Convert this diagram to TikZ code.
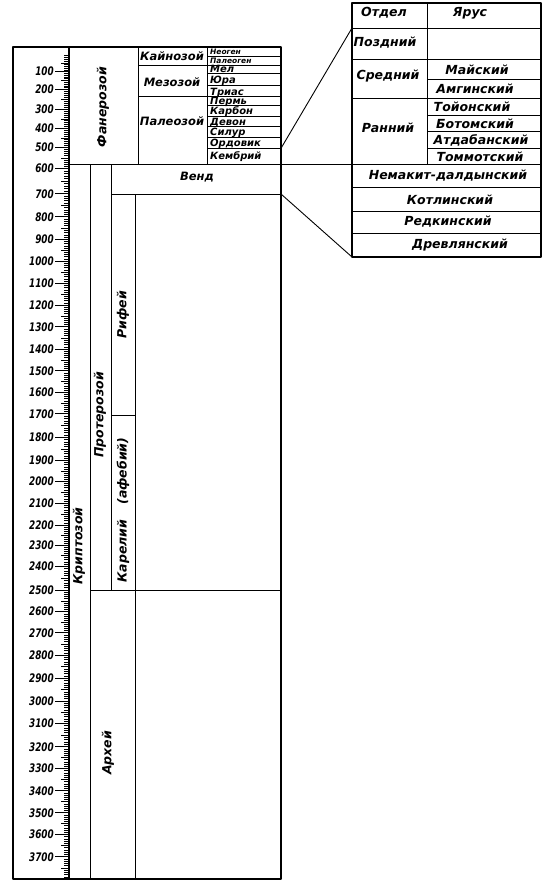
\documentclass[tikz,border=0pt]{standalone}
\usepackage{fontspec}
\usepackage{graphicx}
\newfontfamily\numfont{DejaVu Sans Bold Oblique}[FakeStretch=0.75]
\newfontfamily\txtfont{DejaVu Sans Bold Oblique}
\begin{document}
\begin{tikzpicture}[x=1pt,y=-1pt,line join=round,
  frame/.style={line width=1.3pt},
  thin/.style={line width=0.9pt},
  tick/.style={line width=0.55pt},
  lbl/.style={font=\txtfont\fontsize{11.5}{13}\selectfont, inner sep=0pt},
  per/.style={font=\txtfont\fontsize{10}{10}\selectfont, inner sep=0pt, anchor=base west},
  tiny/.style={font=\txtfont\fontsize{7.5}{8}\selectfont, inner sep=0pt, anchor=base west},
  tbl/.style={font=\txtfont\fontsize{12.5}{13}\selectfont, inner sep=0pt},
  num/.style={font=\numfont\fontsize{11.8}{12}\selectfont, inner sep=0pt, anchor=east},
  vert/.style={font=\txtfont\fontsize{12.5}{13}\selectfont, inner sep=0pt, rotate=90}]
\useasboundingbox (0,0) rectangle (553,887);
\fill[white] (0,0) rectangle (553,887);

% ---- scale: minor ticks
\foreach \va/\vb in {54/71.7,71.7/89.3,89.3/109.3,109.3/128.3,128.3/147.3,147.3/168.3,
  168.3/193.8,193.8/216.7,216.7/239.3,239.3/261,261/283.3,283.3/305,305/326.7,326.7/349,
  349/370.7,370.7/392.3,392.3/413.7,413.7/437.3,437.3/460.7,460.7/481,481/503.3,503.3/525,
  525/545,545/566,566/590,590/611.7,611.7/632.7,632.7/655,655/678.3,678.3/701,701/723.3,
  723.3/746.7,746.7/768.3,768.3/790.7,790.7/812.7,812.7/834.3,834.3/856.7,856.7/879}{
  \foreach \i in {1,...,9}{
    \pgfmathsetmacro\yy{\va+(\vb-\va)*\i/10}
    \pgfmathsetmacro\len{ifthenelse(\i==5,8,5)}
    \draw[tick] ({69-\len},\yy) -- (69,\yy);
  }
}
% ---- scale: labels
\foreach \v/\y in {100/71.7,200/89.3,300/109.3,400/128.3,500/147.3,600/168.3,700/193.8,
  800/216.7,900/239.3,1000/261,1100/283.3,1200/305,1300/326.7,1400/349,1500/370.7,
  1600/392.3,1700/413.7,1800/437.3,1900/460.7,2000/481,2100/503.3,2200/525,2300/545,
  2400/566,2500/590,2600/611.7,2700/632.7,2800/655,2900/678.3,3000/701,3100/723.3,
  3200/746.7,3300/768.3,3400/790.7,3500/812.7,3600/834.3,3700/856.7}{
  \node[num] (n\v) at (54,\y) {\v};
  \draw[tick,line width=0.9pt] (n\v.east) ++(1,0) -- (69,\y);
}

% ---- main column frame
\draw[frame] (13,47) rectangle (281,879);
\draw[frame] (69,47) -- (69,879);
\draw[thin] (138,47) -- (138,164.5);
\draw[thin] (207,47) -- (207,164.5);
\foreach \y in {56,65,73.3,85,96.7,105.7,116,126.7,137.3,148.3}
  \draw[thin] (207,\y) -- (281,\y);
\draw[thin] (138,65) -- (207,65);
\draw[thin] (138,96.7) -- (207,96.7);
\draw[frame] (69,164.5) -- (352,164.5);
\draw[thin] (90,164.5) -- (90,879);
\draw[thin] (111.5,164.5) -- (111.5,590);
\draw[thin] (111.5,194) -- (281,194);
\draw[thin] (135.5,194) -- (135.5,879);
\draw[thin] (111.5,415) -- (135.5,415);
\draw[thin] (90,590) -- (281,590);

% ---- labels in main column
\node[vert] (phan) at (103,107) {Фанерозой};
\node[lbl] (kain) at (172,56) {Кайнозой};
\node[lbl] (mezo) at (172,82) {Мезозой};
\node[lbl] (paleo) at (172,121) {Палеозой};
\node[tiny] (neog) at (210,54.5) {Неоген};
\node[tiny] (paleog) at (210,63.5) {Палеоген};
\node[per] (mel) at (210,72) {Мел};
\node[per] (jura) at (210,83) {Юра};
\node[per] (trias) at (210,95) {Триас};
\node[per] (perm) at (210,104) {Пермь};
\node[per] (karb) at (210,114.5) {Карбон};
\node[per] (devon) at (210,125) {Девон};
\node[per] (silur) at (210,135.5) {Силур};
\node[per] (ordov) at (210,146.5) {Ордовик};
\node[per] (kembr) at (210,159) {Кембрий};
\node[lbl] (vend) at (197,177) {Венд};
\node[vert] (krip) at (79,546) {Криптозой};
\node[vert] (prot) at (100,415) {Протерозой};
\node[vert] (rif) at (123,315) {Рифей};
\node[vert] (karel) at (123,510) {Карелий\hspace{1.2em}(афебий)};
\node[vert] (arch) at (108,753) {Архей};

% ---- table
\draw[frame] (352,3) rectangle (541,257);
\draw[thin] (427,3) -- (427,164.5);
\foreach \y in {28,59,98,187,211,233}
  \draw[thin] (352,\y) -- (541,\y);
\draw[frame] (352,164.5) -- (541,164.5);
\foreach \y in {79,115.7,131.7,148.3}
  \draw[thin] (427,\y) -- (541,\y);

\node[tbl] (otdel) at (384,13) {Отдел};
\node[tbl] (jarus) at (470,13) {Ярус};
\node[tbl] (pozd) at (385,43) {Поздний};
\node[tbl] (sredn) at (388,76) {Средний};
\node[tbl] (maj) at (477,69.5) {Майский};
\node[tbl] (amg) at (475,88.5) {Амгинский};
\node[tbl] (rann) at (388,128) {Ранний};
\node[tbl] (toj) at (472,107) {Тойонский};
\node[tbl] (bot) at (475,124) {Ботомский};
\node[tbl] (atd) at (481,140) {Атдабанский};
\node[tbl] (tom) at (480,156.5) {Томмотский};
\node[tbl] (nem) at (448,176) {Немакит-далдынский};
\node[tbl] (kotl) at (450,199.5) {Котлинский};
\node[tbl] (redk) at (448,222) {Редкинский};
\node[tbl] (drev) at (460,245.5) {Древлянский};

% ---- connectors
\coordinate (cA) at (281,148.3);
\coordinate (tA) at (352,28);
\coordinate (cB) at (281,194);
\coordinate (tB) at (352,257);
\draw[thin] (cA) -- (tA);
\draw[thin] (cB) -- (tB);
\end{tikzpicture}
\end{document}
